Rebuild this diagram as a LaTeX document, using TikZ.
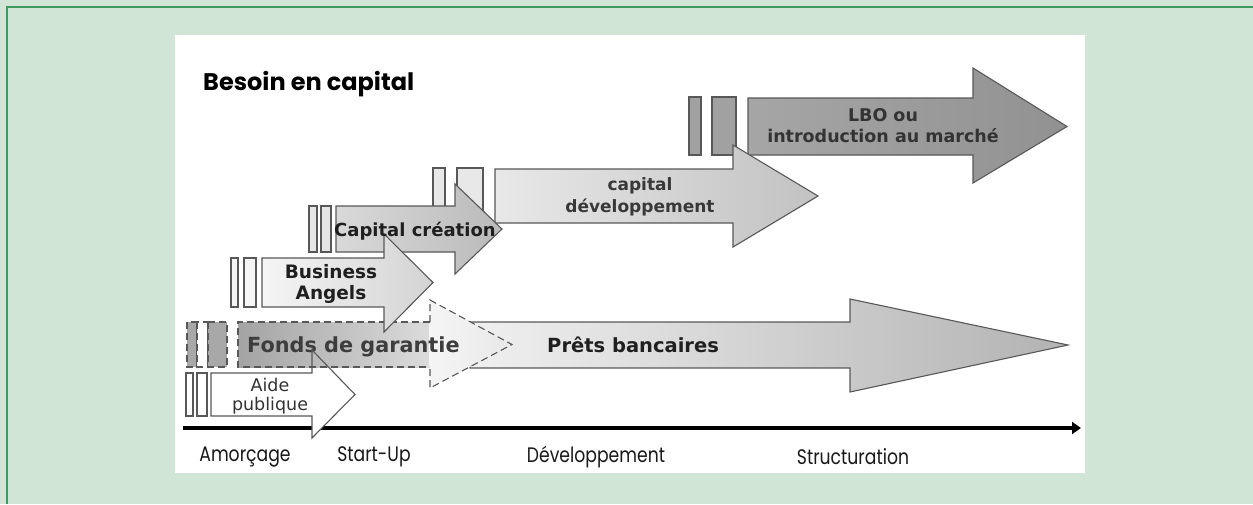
\documentclass[tikz,border=0pt]{standalone}
\usepackage{fontspec}
\setmainfont{DejaVu Sans}
\newfontfamily\geo{Poppins}
\usetikzlibrary{arrows.meta}
\definecolor{bgg}{HTML}{D1E5D6}
\definecolor{brd}{HTML}{3C9A5F}
\definecolor{outl}{HTML}{585858}
\newcommand\BigArr[8]{%
  \path[#1] (#2,#5) -- (#3,#5) -- (#3,#7) -- (#4,{(#5+#6)/2}) -- (#3,#8) -- (#3,#6) -- (#2,#6) -- cycle;}
\tikzset{
  ol/.style={draw=outl, line width=1.1pt},
  bar/.style={draw=outl, line width=1.1pt},
  dsh/.style={dash pattern=on 7pt off 4pt},
  intext/.style={font=\bfseries, text=black!88, align=center, inner sep=0pt},
  axlab/.style={font=\geo\fontsize{21}{21}\selectfont, text=black!90, inner sep=0pt, xscale=0.82},
}
\begin{document}
\begin{tikzpicture}[x=1pt,y=-1pt]
\useasboundingbox (0,0) rectangle (1253,504);
\fill[bgg] (0,0) rectangle (1253,504);
\draw[brd, line width=1.5pt] (7,504) -- (7,7) -- (1253,7);
\fill[white] (175,35) rectangle (1085,473);
% title
\node[font=\geo\bfseries\fontsize{24}{24}\selectfont, anchor=west, inner sep=0pt] (title) at (203,84) {Besoin en capital};
% axis
\draw[line width=4pt, -{Triangle[length=9pt,width=12pt]}] (183,428) coordinate (axs) -- (1081,428) coordinate (axe);
\node[axlab] (l1) at (245,457) {Amorçage};
\node[axlab] (l2) at (374,457) {Start-Up};
\node[axlab] (l3) at (596,457) {Développement};
\node[axlab] (l4) at (853,457) {Structuration};
% LBO
\draw[bar, fill=black!37] (689,97) rectangle (701,155);
\draw[bar, fill=black!37] (712,97) rectangle (736,155);
\BigArr{ol, left color=black!35, right color=black!43}{748}{973}{1067}{98}{155}{68}{183}
\node[intext, text=black!80, font=\bfseries\fontsize{17.5}{21}\selectfont] (lbo) at (883,126) {LBO ou\\introduction au marché};
% capital developpement
\draw[bar, fill=black!9] (433,168) rectangle (445,222);
\draw[bar, fill=black!9] (457,168) rectangle (483,222);
\BigArr{ol, left color=black!9, right color=black!24}{495}{733}{818}{169}{223}{145}{247}
\node[intext, text=black!78, font=\bfseries\fontsize{17}{22}\selectfont] (cdev) at (640,197) {capital\\développement};
% capital creation
\draw[bar, fill=black!10] (309,206) rectangle (317,252);
\draw[bar, fill=black!10] (321,206) rectangle (331,252);
\BigArr{ol, left color=black!15, right color=black!27}{336}{455}{502}{206}{252}{184}{274}
% prets bancaires
\BigArr{ol, left color=black!6, right color=black!30}{470}{850}{1068}{322}{368}{299}{392}
\node[intext, anchor=west, font=\bfseries\fontsize{19.5}{19.5}\selectfont] (pb) at (547,345) {Prêts bancaires};
% aide publique fill (under fonds)
\BigArr{fill=white}{211}{312}{355}{373}{416}{350}{438}
% fonds de garantie
\draw[bar, dsh, fill=black!34] (187,322) rectangle (197,367);
\draw[bar, dsh, fill=white] (197,322) rectangle (208,367);
\draw[bar, dsh, fill=black!34] (208,322) rectangle (227,367);
\fill[left color=black!36, right color=black!14] (238,322) rectangle (430,367);
\draw[ol, dsh] (430,322) -- (238,322) -- (238,367) -- (430,367);
\BigArr{ol, dsh, left color=black!4, right color=black!9}{430}{430}{512}{322}{367}{300}{388}
\fill[black!4] (429,323) rectangle (432,366);
\node[intext, text=black!76, anchor=west, font=\bfseries\fontsize{20.8}{20.8}\selectfont] (fg) at (247,347) {Fonds de garantie};
% aide publique
\draw[bar, fill=white] (186,373) rectangle (193,416);
\draw[bar, fill=white] (197,373) rectangle (207,416);
\BigArr{ol}{211}{312}{355}{373}{416}{350}{438}
\node[intext, font=\fontsize{17.5}{19}\selectfont, text=black!80] (ap) at (270,396) {Aide\\publique};
% business angels
\draw[bar, fill=black!4] (231,258) rectangle (238,307);
\draw[bar, fill=black!4] (244,258) rectangle (256,307);
\BigArr{ol, left color=black!4, right color=black!17}{262}{384}{433}{258}{307}{234}{332}
\node[intext, font=\bfseries\fontsize{18.5}{21}\selectfont] (ba) at (331,284) {Business\\Angels};
% creation text on top
\node[intext, anchor=west, font=\bfseries\fontsize{18}{18}\selectfont] (cc) at (334,231) {Capital création};
\end{tikzpicture}
\end{document}
